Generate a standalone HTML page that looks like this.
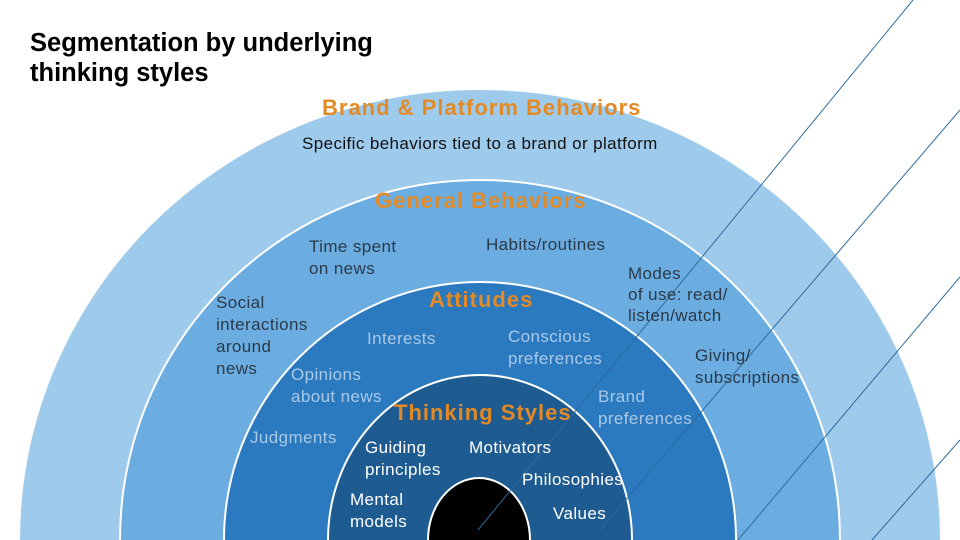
<!DOCTYPE html>
<html><head><meta charset="utf-8"><style>
html,body{margin:0;width:960px;height:540px;overflow:hidden}
body{background:#fff;font-family:"Liberation Sans",sans-serif;position:relative}
.t{position:absolute;white-space:nowrap;line-height:22px;font-size:17px;letter-spacing:0.4px}
.d{color:#2b3a4a}.l{color:#a8c9e8}.w{color:#fff}.o{color:#e38a26;font-weight:bold;font-size:22px!important;letter-spacing:1px}
</style></head><body>
<svg width="960" height="540" style="position:absolute;left:0;top:0;overflow:hidden">
<ellipse cx="480" cy="540" rx="460" ry="450" fill="#9ecaec"/>
<ellipse cx="480" cy="540" rx="360" ry="360" fill="#6badE0" stroke="#fff" stroke-width="2"/>
<ellipse cx="480" cy="540" rx="256" ry="258" fill="#2b79be" stroke="#fff" stroke-width="2"/>
<ellipse cx="480" cy="540" rx="152" ry="165" fill="#1d5b91" stroke="#fff" stroke-width="2"/>
<ellipse cx="479" cy="540" rx="51" ry="62" fill="#000" stroke="#fff" stroke-width="2"/>
<g stroke="#2d6b9c" stroke-width="1">
<line x1="913" y1="0" x2="478" y2="530"/>
<line x1="960" y1="110" x2="600" y2="530"/>
<line x1="960" y1="277" x2="738" y2="540"/>
<line x1="960" y1="440" x2="872" y2="540"/>
</g>
</svg>
<div class="t" style="left:30px;top:28px;font-size:25.5px;line-height:30px;font-weight:bold;color:#000;letter-spacing:0">Segmentation by underlying<br>thinking styles</div>
<div class="t o" style="left:322px;top:97px">Brand &amp; Platform Behaviors</div>
<div class="t" style="left:302px;top:133px;color:#111">Specific behaviors tied to a brand or platform</div>
<div class="t o" style="left:375px;top:190px">General Behaviors</div>
<div class="t d" style="left:309px;top:236px">Time spent<br>on news</div>
<div class="t d" style="left:486px;top:234px">Habits/routines</div>
<div class="t d" style="left:628px;top:263px;line-height:21px">Modes<br>of use: read/<br>listen/watch</div>
<div class="t d" style="left:216px;top:292px">Social<br>interactions<br>around<br>news</div>
<div class="t d" style="left:695px;top:345px">Giving/<br>subscriptions</div>
<div class="t o" style="left:429px;top:289px">Attitudes</div>
<div class="t l" style="left:367px;top:328px">Interests</div>
<div class="t l" style="left:508px;top:326px">Conscious<br>preferences</div>
<div class="t l" style="left:291px;top:364px">Opinions<br>about news</div>
<div class="t l" style="left:598px;top:386px">Brand<br>preferences</div>
<div class="t l" style="left:250px;top:427px">Judgments</div>
<div class="t o" style="left:394px;top:402px">Thinking Styles</div>
<div class="t w" style="left:365px;top:437px">Guiding<br>principles</div>
<div class="t w" style="left:469px;top:437px">Motivators</div>
<div class="t w" style="left:522px;top:469px">Philosophies</div>
<div class="t w" style="left:350px;top:489px">Mental<br>models</div>
<div class="t w" style="left:553px;top:503px">Values</div>
</body></html>
